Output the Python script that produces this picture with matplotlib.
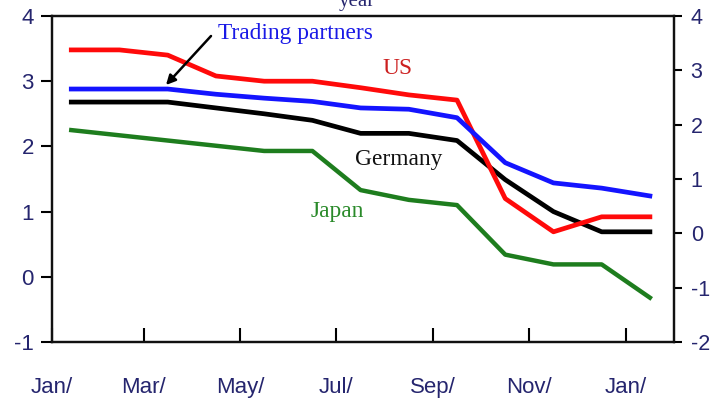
import matplotlib
matplotlib.use("Agg")
import matplotlib.pyplot as plt

# Data (monthly, Jan .. following Jan)
months = list(range(13))
us = [3.48, 3.48, 3.40, 3.08, 3.00, 3.00, 2.90, 2.79, 2.71, 1.20, 0.69, 0.92, 0.92]
trading_partners = [2.88, 2.88, 2.88, 2.80, 2.74, 2.69, 2.59, 2.57, 2.44, 1.75, 1.44, 1.36, 1.24]
germany = [2.68, 2.68, 2.68, 2.59, 2.50, 2.40, 2.20, 2.20, 2.09, 1.49, 1.00, 0.69, 0.69]
japan = [2.25, 2.17, 2.09, 2.01, 1.93, 1.93, 1.33, 1.18, 1.10, 0.34, 0.19, 0.19, -0.32]

tick_labels = ["Jan/", "Mar/", "May/", "Jul/", "Sep/", "Nov/", "Jan/"]
left_ticks = [-1, 0, 1, 2, 3, 4]
right_ticks = [-2, -1, 0, 1, 2, 3, 4]

navy = "#25256e"
H = 405

fig = plt.figure(figsize=(7.15, 4.05), dpi=100)
ax = fig.add_axes([52/715, 63/405, (674-52)/715, (342-16)/405])

xs = [m + 0.5 for m in months]
ax.plot(xs, japan, color="#1e7d1e", lw=3.2, solid_joinstyle="round", zorder=3)
ax.plot(xs, germany, color="black", lw=3.4, solid_joinstyle="round", zorder=4)
ax.plot(xs, us, color="#ff0a0a", lw=3.4, solid_joinstyle="round", zorder=5)
ax.plot(xs, trading_partners, color="#1414ff", lw=3.4, solid_joinstyle="round", zorder=6)

ax.set_xlim(0.1, 13.0)
ax.set_ylim(-1, 4)
xt = [0.1, 2, 4, 6, 8, 10, 12]
ax.set_xticks(xt)
ax.set_xticklabels(tick_labels)
ax.set_yticks(left_ticks)
ax.set_yticklabels([str(v) for v in left_ticks])

for lab in ax.get_xticklabels() + ax.get_yticklabels():
    lab.set_fontfamily("Liberation Sans")
    lab.set_fontsize(16)
    lab.set_color(navy)

ax.tick_params(axis="x", direction="in", length=10, width=1.5, pad=25)
ax.tick_params(axis="y", direction="out", length=8, width=1.5, pad=5)
for s in ax.spines.values():
    s.set_linewidth(1.6)
    s.set_color("#111111")

ax2 = ax.twinx()
ax2.set_ylim(-2, 4)
ax2.set_yticks(right_ticks)
ax2.set_yticklabels([str(v) for v in right_ticks])
for lab in ax2.get_yticklabels():
    lab.set_fontfamily("Liberation Sans")
    lab.set_fontsize(15.5)
    lab.set_color(navy)
ax2.tick_params(axis="y", direction="out", length=6, width=1.5, pad=6)
for s in ax2.spines.values():
    s.set_linewidth(1.6)
    s.set_color("#111111")

serif = "Liberation Serif"
labels = [
    ("Trading partners", 218, 33, "#1a1ae6"),
    ("US", 382, 68, "#cc1f1f"),
    ("Germany", 355, 160, "#111111"),
    ("Japan", 311, 211, "#2a8a2a"),
]
for txt, x, y, c in labels:
    fig.text(x/715, (H - y)/H, txt, fontsize=16.8, family=serif,
             color=c, va="center", ha="left")

ax.annotate("", xy=(166, H - 85), xycoords="figure pixels",
            xytext=(211, H - 36), textcoords="figure pixels",
            arrowprops=dict(arrowstyle="-|>", color="black", lw=1.8,
                            mutation_scale=14, shrinkA=0, shrinkB=0), zorder=10)

fig.text(357/715, 1 - 6/405, "year", ha="center", va="baseline",
         family=serif, fontsize=15, color=navy)

fig.savefig("out.png", dpi=100)
